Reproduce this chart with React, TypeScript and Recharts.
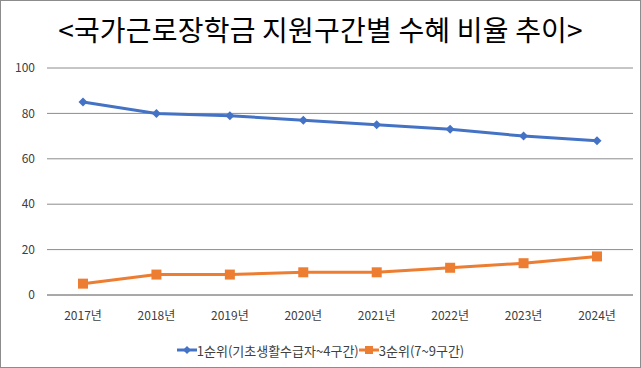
import { CartesianGrid, Line, LineChart, XAxis, YAxis } from "recharts";

const years = ["2017년", "2018년", "2019년", "2020년", "2021년", "2022년", "2023년", "2024년"];
const rank1 = [85, 80, 79, 77, 75, 73, 70, 68];
const rank3 = [5, 9, 9, 10, 10, 12, 14, 17];
const yTicks = [0, 20, 40, 60, 80, 100];
const rank1Name = "1순위(기초생활수급자~4구간)";
const rank3Name = "3순위(7~9구간)";

const BLUE = "#4472C4";
const ORANGE = "#ED7D31";
const FONT = "'Noto Sans CJK KR', 'Noto Sans', sans-serif";

const data = years.map((y, i) => ({ year: y, r1: rank1[i], r3: rank3[i] }));

function Diamond(props: any) {
  const { cx, cy } = props;
  if (cx == null || cy == null) return null;
  const s = 4.5;
  return <polygon points={`${cx},${cy - s} ${cx + s},${cy} ${cx},${cy + s} ${cx - s},${cy}`} fill={BLUE} />;
}

function Square(props: any) {
  const { cx, cy } = props;
  if (cx == null || cy == null) return null;
  const s = 5;
  return <rect x={cx - s} y={cy - s} width={s * 2} height={s * 2} fill={ORANGE} />;
}

function LegendBox() {
  const item = (color: string, marker: "d" | "s", label: string) => (
    <span style={{ display: "inline-flex", alignItems: "center" }}>
      <svg width={20} height={10}>
        <line x1={0} y1={5} x2={20} y2={5} stroke={color} strokeWidth={3} />
        {marker === "d" ? (
          <polygon points="10,1 14,5 10,9 6,5" fill={color} />
        ) : (
          <rect x={6} y={1} width={8} height={8} fill={color} />
        )}
      </svg>
      <span>{label}</span>
    </span>
  );
  return (
    <div style={{ position: "absolute", left: 0, top: 340, width: 641, textAlign: "center", fontFamily: FONT, fontSize: 13, color: "#404040" }}>
      {item(BLUE, "d", rank1Name)}
      {item(ORANGE, "s", rank3Name)}
    </div>
  );
}

export default function App() {
  return (
    <div style={{ position: "fixed", left: 0, top: 0, width: 641, height: 368, background: "#fff" }}>
      <div style={{ position: "absolute", inset: 0, border: "1px solid #8c8c8c", boxSizing: "border-box", pointerEvents: "none", zIndex: 2 }} />
      <div style={{ position: "absolute", left: 0, top: 9, width: 641, textAlign: "center", fontFamily: "'Noto Sans CJK KR', serif", fontSize: 28, color: "#000", letterSpacing: 0.2 }}>
        {"<국가근로장학금 지원구간별 수혜 비율 추이>"}
      </div>
      <LineChart width={641} height={368} data={data} margin={{ top: 68, right: 8, bottom: 43, left: 0 }}>
        <CartesianGrid horizontal vertical={false} stroke="#8c8c8c" strokeWidth={1} />
        <XAxis
          dataKey="year"
          height={30}
          padding={{ left: 36, right: 36 }}
          axisLine={{ stroke: "#8c8c8c" }}
          tickLine={false}
          tick={{ fontSize: 12, fill: "#404040", fontFamily: FONT }}
          tickMargin={10}
        />
        <YAxis
          domain={[0, 100]}
          ticks={yTicks}
          width={47}
          axisLine={false}
          tickLine={false}
          tick={{ fontSize: 12, fill: "#404040", fontFamily: FONT }}
          tickMargin={6}
        />
        <Line dataKey="r1" name={rank1Name} stroke={BLUE} strokeWidth={3} dot={<Diamond />} activeDot={false} isAnimationActive={false} />
        <Line dataKey="r3" name={rank3Name} stroke={ORANGE} strokeWidth={3} dot={<Square />} activeDot={false} isAnimationActive={false} />
      </LineChart>
      <LegendBox />
    </div>
  );
}
